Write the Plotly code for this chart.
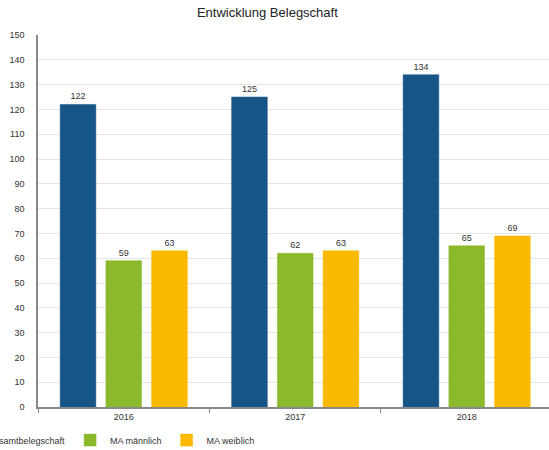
import plotly.graph_objects as go

years = ["2016", "2017", "2018"]
gesamt = [122, 125, 134]
maennlich = [59, 62, 65]
weiblich = [63, 63, 69]

series = [
    ("Gesamtbelegschaft", gesamt, "#175587"),
    ("MA männlich", maennlich, "#8cb92b"),
    ("MA weiblich", weiblich, "#fbb900"),
]

fig = go.Figure()
for name, vals, color in series:
    fig.add_trace(go.Bar(
        name=name, x=years, y=vals,
        marker=dict(color=color, line=dict(color=color, width=0.5)),
        text=[str(v) for v in vals], textposition="outside",
        textfont=dict(size=9, color="#333333"),
        cliponaxis=False,
    ))

fig.update_layout(
    width=549, height=450,
    margin=dict(l=38, r=0, t=35, b=43, autoexpand=False),
    paper_bgcolor="white", plot_bgcolor="white",
    font=dict(family="Liberation Sans, Arial, sans-serif", size=9, color="#333333"),
    title=dict(text="Entwicklung Belegschaft", x=0.487, xanchor="center",
               y=0.972, yanchor="middle",
               font=dict(size=13, color="#222222")),
    barmode="group", bargap=0.2, bargroupgap=0.22,
    showlegend=True,
    legend=dict(orientation="h", x=-0.178, xanchor="left", y=-0.089, yanchor="middle",
                xref="paper", yref="paper",
                font=dict(size=9, color="#333333"), bgcolor="rgba(0,0,0,0)"),
    xaxis=dict(range=[-0.5, 2.48], showline=True, linecolor="#888888", linewidth=1.5,
               ticks="outside", tickson="boundaries", ticklen=4, tickcolor="#888888",
               showgrid=False, tickfont=dict(size=9, color="#333333")),
    yaxis=dict(range=[0, 150], dtick=10, showline=True, linecolor="#888888", linewidth=1.5,
               showgrid=True, gridcolor="#e6e6e6", gridwidth=1, zeroline=False,
               ticks="", ticklabelstandoff=10, tickfont=dict(size=9, color="#333333")),
)

fig.write_html("out.html")
